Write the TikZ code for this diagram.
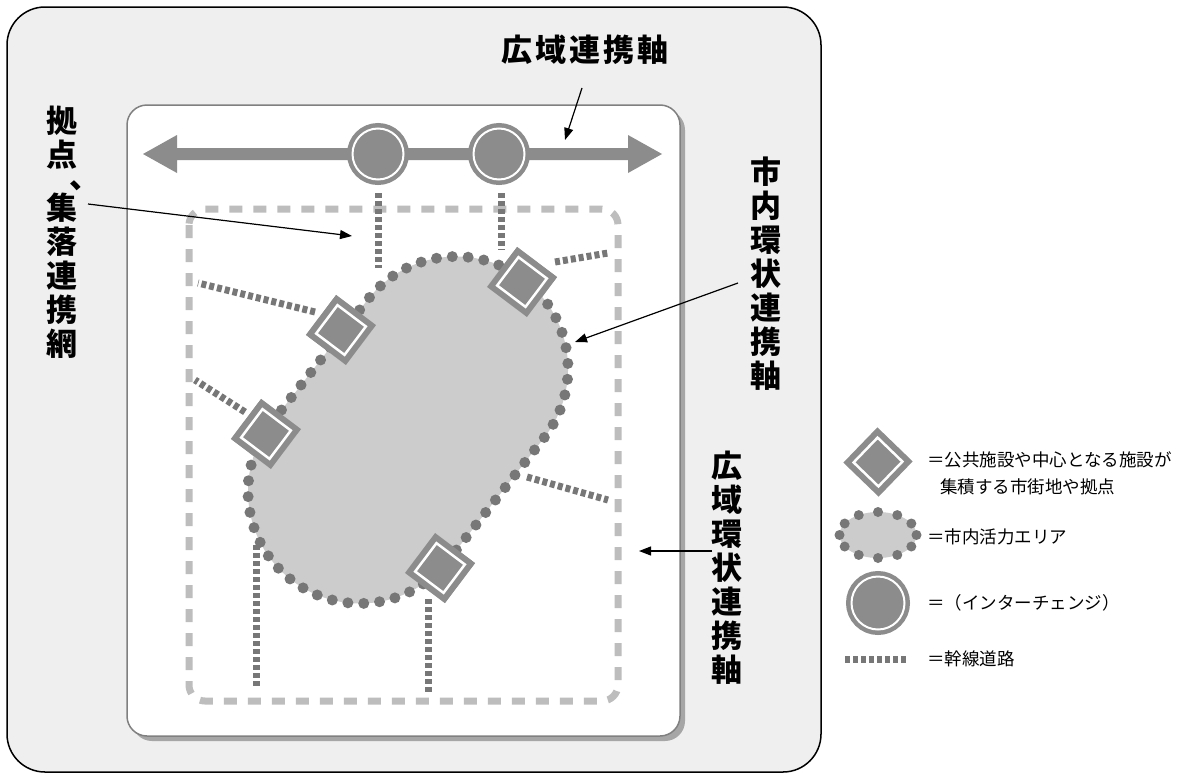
\documentclass[tikz,border=0pt]{standalone}
\usepackage{fontspec}
\setmainfont{Noto Sans CJK JP}
\newfontfamily\jp{Noto Sans CJK JP}
\usetikzlibrary{arrows.meta,calc}
\definecolor{bgc}{HTML}{EFEFEF}
\definecolor{mid}{HTML}{8C8C8C}
\definecolor{dk}{HTML}{777777}
\definecolor{lt}{HTML}{CCCCCC}
\definecolor{dsh}{HTML}{BDBDBD}
\definecolor{frm}{HTML}{808080}
\definecolor{shad}{HTML}{A6A6A6}
\tikzset{
  trunk/.style={draw=dk, line width=7pt, dash pattern=on 5pt off 3pt},
  hubbase/.style={rectangle, draw=mid, fill=mid, line width=6pt, double=white, double distance=2.5pt, minimum size=35.5pt, inner sep=0pt, outer sep=0pt},
  hub/.style={hubbase, rotate=-37},
  ic/.style={circle, draw=mid, fill=mid, line width=4.5pt, double=white, double distance=2pt, minimum size=51pt, inner sep=0pt, outer sep=0pt},
  lbl/.style={font=\jp\bfseries\fontsize{31}{34}\selectfont, align=center, inner sep=0pt},
  leg/.style={font=\jp\fontsize{17.5}{20}\selectfont, anchor=west, inner sep=0pt},
  leader/.style={draw=black, line width=1.2pt, -{Triangle[length=12pt,width=9pt]}},
}
\begin{document}
\begin{tikzpicture}[x=1pt,y=-1pt]
\useasboundingbox (0,0) rectangle (1177,779);
\fill[white] (0,0) rectangle (1177,779);
% outer frame
\draw[black, line width=1.5pt, fill=bgc, rounded corners=38pt] (7,7) rectangle (821,772);
% inner panel with shadow
\fill[shad, rounded corners=20pt] (132,110) rectangle (685,741);
\draw[frm, line width=1.5pt, fill=white, rounded corners=20pt] (127,105) rectangle (680,736);
% wide-area ring (dashed)
\draw[dsh, line width=7pt, dash pattern=on 13pt off 11pt, rounded corners=16pt] (189,209) rectangle (618,701);
% top axis arrow
\fill[mid] (143,154) -- (177,135) -- (177,148) -- (628,148) -- (628,135) -- (662,154)
  -- (628,173) -- (628,160) -- (177,160) -- (177,173) -- cycle;
% interchanges
\node[ic] (ic1) at (378,154) {};
\node[ic] (ic2) at (499,154) {};
% free ends of trunk roads
\coordinate (r1) at (378,268);
\coordinate (r2) at (501,250);
\coordinate (r3) at (608,253);
\coordinate (r4) at (198,283);
\coordinate (r5) at (195,380);
\coordinate (r6) at (608,500);
\coordinate (r7) at (256,687);
\coordinate (r8) at (428,693);
\coordinate (e1) at (527,477);
\coordinate (e2) at (256,545);
% hubs
\node[hub] (h1) at (522,282) {};
\node[hub] (h2) at (341,330) {};
\node[hub] (h3) at (266,434) {};
\node[hub] (h4) at (440,568) {};
% trunk roads
\draw[trunk] ($(ic1)+(0,39)$) -- (r1);
\draw[trunk] ($(ic2)+(2,39)$) -- (r2);
\draw[trunk] ($(h1)+(33,-20)$) -- (r3);
\draw[trunk] ($(h2)+(-26,-18)$) -- (r4);
\draw[trunk] ($(h3)+(-21,-22)$) -- (r5);
\draw[trunk] (e1) -- (r6);
\draw[trunk] (e2) -- (r7);
\draw[trunk] ($(h4)+(-12,31)$) -- (r8);
% inner activity area (stadium shape, tilted)
\begin{scope}[shift={(408,430)}, rotate=52]
  \fill[lt] (-78,-112) -- (78,-112) arc[start angle=-90, end angle=90, radius=112]
     -- (-78,112) arc[start angle=90, end angle=270, radius=112] -- cycle;
  \draw[dk, line width=11pt, line cap=round, dash pattern=on 0pt off 15.87pt]
     (-78,-112) -- (78,-112) arc[start angle=-90, end angle=90, radius=112]
     -- (-78,112) arc[start angle=90, end angle=270, radius=112] -- cycle;
\end{scope}
% hubs on top
\node[hub] at (h1) {};
\node[hub] at (h2) {};
\node[hub] at (h3) {};
\node[hub] at (h4) {};
% labels
\node[lbl] (tA) at (585,50) {広\kern3pt 域\kern3pt 連\kern3pt 携\kern3pt 軸};
\node[lbl] (tB) at (766,273.5) {市\\内\\環\\状\\連\\携\\軸};
\node[lbl] (tC) at (727,568) {広\\域\\環\\状\\連\\携\\軸};
\node[lbl] (tD1) at (62,138) {拠\\点};
\node[lbl, anchor=west] (tDc) at (69,186) {、};
\node[lbl] (tD2) at (62,276) {集\\落\\連\\携\\網};
% leaders
\coordinate (aA) at (582,88);   \coordinate (aA2) at (565,140);
\coordinate (aD) at (88,204);   \coordinate (aD2) at (352,236);
\coordinate (aB) at (738,283);  \coordinate (aB2) at (575,342);
\coordinate (aC) at (712,551);  \coordinate (aC2) at (639,551);
\draw[leader] (aA) -- (aA2);
\draw[leader] (aD) -- (aD2);
\draw[leader] (aB) -- (aB2);
\draw[leader] (aC) -- (aC2);
% legend
\node[hubbase, rotate=-44, minimum size=34.5pt] (lg1) at (878,462) {};
\fill[lt] (878,535) ellipse [x radius=38.5, y radius=23];
\foreach \a in {0,30,...,330} {\fill[dk] ({878+38.5*cos(\a)},{535+23*sin(\a)}) circle (5);}
\coordinate (lg2) at (878,535);
\node[ic, minimum size=53pt] (lg3) at (878,603) {};
\coordinate (lg4a) at (845,659); \coordinate (lg4b) at (908,659);
\draw[trunk] (lg4a) -- (lg4b);
\node[leg] (l1) at (927,460) {＝公共施設や中心となる施設が};
\node[leg] (l1b) at (940,487) {集積する市街地や拠点};
\node[leg] (l2) at (927,537) {＝市内活力エリア};
\node[leg] (l3) at (927,603) {＝（インターチェンジ）};
\node[leg] (l4) at (927,659) {＝幹線道路};
\end{tikzpicture}
\end{document}
